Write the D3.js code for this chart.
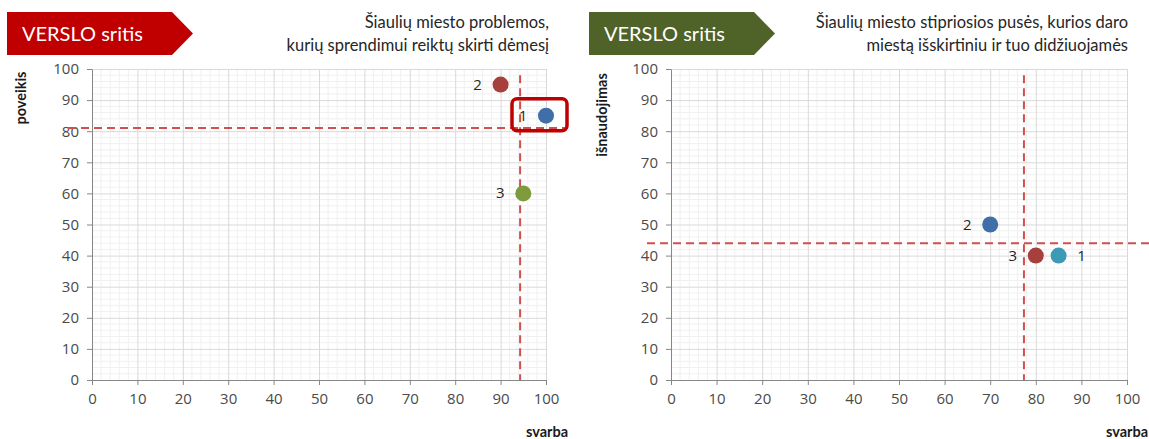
<!DOCTYPE html>
<html>
<head>
<meta charset="utf-8">
<script src="https://cdn.jsdelivr.net/npm/d3@7"></script>
<style>
  body { margin: 0; background: #fff; }
  svg text { font-family: Lato, "Open Sans", sans-serif; }
</style>
</head>
<body>
<div id="chart"></div>
<script>
// data
const axisTicks = [0, 10, 20, 30, 40, 50, 60, 70, 80, 90, 100]
const minorStep = 2

const leftLabels = ["1", "2", "3"]
const leftSvarba = [100, 90, 95]
const leftPoveikis = [85, 95, 60]
const leftCut = { x: 94.3, y: 81 }

const rightLabels = ["1", "2", "3"]
const rightSvarba = [85, 70, 80]
const rightIsnaudojimas = [40, 50, 40]
const rightCut = { x: 77.4, y: 44 }

const width = 1149
const height = 439
const numFont = "'Open Sans', sans-serif"

const svg = d3.select("#chart")
  .append("svg")
    .attr("width", width)
    .attr("height", height)

const makePanel = function(cfg) {
  const x = d3.scaleLinear().domain([0, 100]).range([cfg.left, cfg.right])
  const y = d3.scaleLinear().domain([0, 100]).range([380, 69])
  const g = svg.append("g")

  // Header arrow box
  const bx = cfg.boxX, bw = 186, by = 12, bh = 43
  g.append("path")
    .attr("d", `M${bx},${by}H${bx + bw - 21}L${bx + bw},${by + bh / 2}L${bx + bw - 21},${by + bh}H${bx}Z`)
    .attr("fill", cfg.boxColor)
  g.append("text")
    .text("VERSLO sritis")
      .attr("x", bx + 15)
      .attr("y", 41)
      .attr("font-size", 20)
      .attr("fill", "#fff")

  // Title, right aligned
  cfg.title.forEach((line, i) => {
    g.append("text")
      .text(line)
        .attr("x", cfg.titleRight)
        .attr("y", 28 + i * 23)
        .attr("text-anchor", "end")
        .attr("font-size", 16.5)
        .attr("fill", "#262626")
  })

  // Minor grid
  const minor = d3.range(0, 101, minorStep).filter(v => v % 10 !== 0)
  g.append("g").selectAll("line.mx").data(minor).enter().append("line")
    .attr("x1", d => x(d)).attr("x2", d => x(d))
    .attr("y1", y(0)).attr("y2", y(100))
    .attr("stroke", "#f0f0f0")
  g.append("g").selectAll("line.my").data(minor).enter().append("line")
    .attr("y1", d => y(d)).attr("y2", d => y(d))
    .attr("x1", x(0)).attr("x2", x(100))
    .attr("stroke", "#f0f0f0")

  // Major grid
  g.append("g")
    .attr("transform", "translate(0," + y(0) + ")")
    .call(d3.axisBottom(x).tickValues(axisTicks).tickSize(-(y(0) - y(100))).tickFormat(""))
    .call(a => a.select(".domain").remove())
    .call(a => a.selectAll("line").attr("stroke", "#d9d9d9"))
  g.append("g")
    .attr("transform", "translate(" + x(0) + ",0)")
    .call(d3.axisLeft(y).tickValues(axisTicks).tickSize(-(x(100) - x(0))).tickFormat(""))
    .call(a => a.select(".domain").remove())
    .call(a => a.selectAll("line").attr("stroke", "#d9d9d9"))

  // Axes
  const xAxis = g.append("g")
    .attr("transform", "translate(0," + y(0) + ")")
    .call(d3.axisBottom(x).tickValues(axisTicks).tickSize(5).tickSizeOuter(0).tickPadding(8))
  const yAxis = g.append("g")
    .attr("transform", "translate(" + x(0) + ",0)")
    .call(d3.axisLeft(y).tickValues(axisTicks).tickSize(5).tickSizeOuter(0).tickPadding(8))
  ;[xAxis, yAxis].forEach(a => {
    a.select(".domain").attr("stroke", "#868686")
    a.selectAll("line").attr("stroke", "#868686")
    a.selectAll("text")
      .style("font-family", numFont)
      .style("font-size", "15px")
      .attr("fill", "#4a4a4a")
  })

  // Axis titles
  g.append("text")
    .text("svarba")
      .attr("x", cfg.svarbaRight)
      .attr("y", 437)
      .attr("text-anchor", "end")
      .attr("font-size", 14.5)
      .attr("font-weight", "bold")
      .attr("fill", "#1a1a1a")
  g.append("text")
    .text(cfg.yTitle)
      .attr("text-anchor", "middle")
      .attr("font-size", 14.5)
      .attr("font-weight", "bold")
      .attr("fill", "#1a1a1a")
      .attr("transform", "translate(" + cfg.yTitleX + "," + cfg.yTitleY + ")rotate(-90)")

  // Dashed cut lines
  g.append("line")
    .attr("x1", x(0) - 24).attr("x2", x(100) + 22)
    .attr("y1", y(cfg.cut.y)).attr("y2", y(cfg.cut.y))
    .attr("stroke", "#d0504d").attr("stroke-width", 2).attr("stroke-dasharray", "8,5")
  g.append("line")
    .attr("x1", x(cfg.cut.x)).attr("x2", x(cfg.cut.x))
    .attr("y1", y(98)).attr("y2", y(0))
    .attr("stroke", "#d0504d").attr("stroke-width", 2).attr("stroke-dasharray", "8,5")

  const pts = cfg.labels.map((l, i) => ({ label: l, x: cfg.xs[i], y: cfg.ys[i], color: cfg.colors[i], side: cfg.sides[i] }))

  // Highlight box
  if (cfg.highlight !== undefined) {
    const p = pts[cfg.highlight]
    g.append("rect")
      .attr("x", x(p.x) - 34).attr("y", y(p.y) - 17)
      .attr("width", 55).attr("height", 32)
      .attr("rx", 5)
      .attr("fill", "none")
      .attr("stroke", "#c00000")
      .attr("stroke-width", 3.5)
  }

  g.selectAll("circle.pt").data(pts).enter().append("circle")
    .attr("cx", d => x(d.x))
    .attr("cy", d => y(d.y))
    .attr("r", 8)
    .attr("fill", d => d.color)

  g.selectAll("text.lbl").data(pts).enter().append("text")
    .text(d => d.label)
      .attr("x", d => x(d.x) + d.side * 23)
      .attr("y", d => y(d.y) + 5)
      .attr("text-anchor", "middle")
      .style("font-family", numFont)
      .style("font-size", "15px")
      .attr("fill", "#262626")
}

makePanel({
  left: 92, right: 546, boxX: 7, boxColor: "#c00000", titleRight: 549,
  title: ["Šiaulių miesto problemos,", "kurių sprendimui reiktų skirti dėmesį"],
  yTitle: "poveikis", yTitleX: 26, yTitleY: 98, svarbaRight: 568,
  labels: leftLabels, xs: leftSvarba, ys: leftPoveikis, cut: leftCut,
  colors: ["#3f6ea8", "#a5403c", "#7d9a3c"], sides: [-1, -1, -1],
  highlight: 0
})

makePanel({
  left: 671, right: 1127, boxX: 589, boxColor: "#4f6228", titleRight: 1128,
  title: ["Šiaulių miesto stipriosios pusės, kurios daro", "miestą išskirtiniu ir tuo didžiuojamės"],
  yTitle: "išnaudojimas", yTitleX: 607, yTitleY: 115, svarbaRight: 1148,
  labels: rightLabels, xs: rightSvarba, ys: rightIsnaudojimas, cut: rightCut,
  colors: ["#3d9ab4", "#3f6ea8", "#a5403c"], sides: [1, -1, -1]
})
</script>
</body>
</html>
